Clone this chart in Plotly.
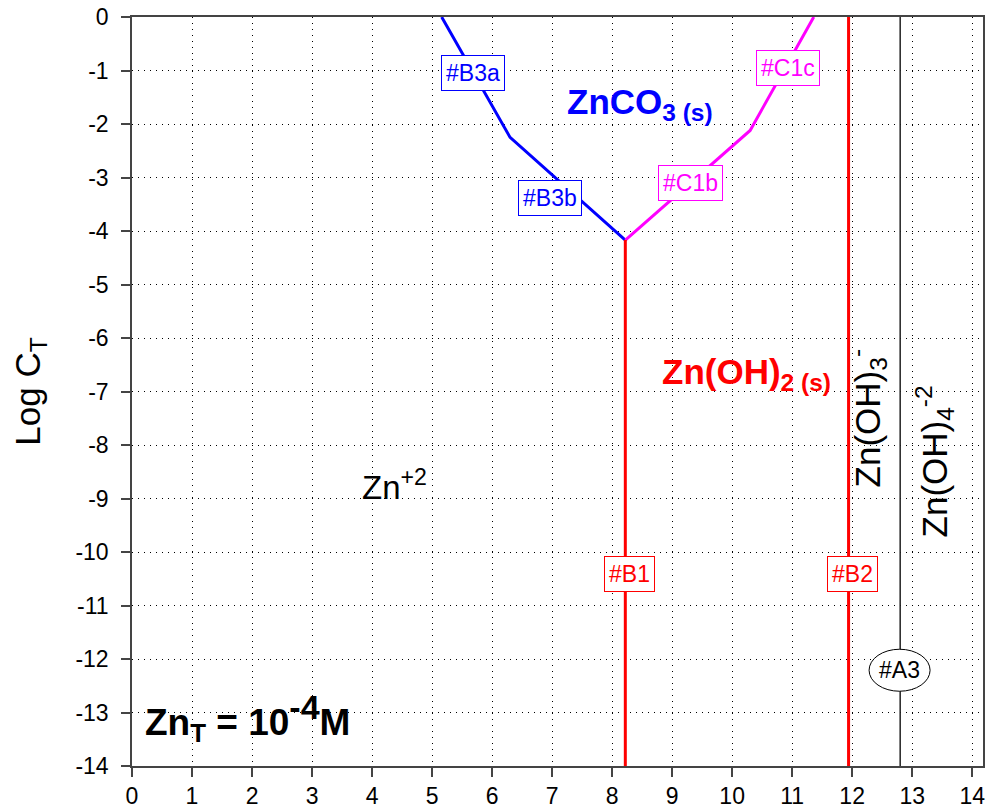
import plotly.graph_objects as go

# ---- data (pH vs log C_T boundaries) ----
znco3_zn2_x = [5.16, 6.3, 8.22]
znco3_zn2_y = [0.0, -2.25, -4.17]
znco3_znoh2_x = [8.22, 10.3, 11.36]
znco3_znoh2_y = [-4.17, -2.12, 0.0]
b1_x = [8.22, 8.22]
b1_y = [-4.17, -14.0]
b2_x = [11.94, 11.94]
b2_y = [0.0, -14.0]
a3_x = [12.8, 12.8]
a3_y = [0.0, -14.0]

x_ticks = list(range(0, 15))
x_ticklabels = [str(v) for v in x_ticks]
y_ticks = list(range(-14, 1))
y_ticklabels = [str(v) for v in y_ticks]  # plain hyphen minus

FONT = "Liberation Sans, Arial, Helvetica, sans-serif"
BLUE = "#0000ff"
MAG = "#ff00ff"
RED = "#ff0000"

fig = go.Figure()
fig.add_trace(go.Scatter(x=znco3_zn2_x, y=znco3_zn2_y, mode="lines",
                         line=dict(color=BLUE, width=3), showlegend=False))
fig.add_trace(go.Scatter(x=znco3_znoh2_x, y=znco3_znoh2_y, mode="lines",
                         line=dict(color=MAG, width=3), showlegend=False))
fig.add_trace(go.Scatter(x=b1_x, y=b1_y, mode="lines",
                         line=dict(color=RED, width=3), showlegend=False))
fig.add_trace(go.Scatter(x=b2_x, y=b2_y, mode="lines",
                         line=dict(color=RED, width=3), showlegend=False))
fig.add_trace(go.Scatter(x=a3_x, y=a3_y, mode="lines",
                         line=dict(color="#222222", width=1.5), showlegend=False))

# ellipse behind #A3
fig.add_shape(type="circle", xref="x", yref="y", xsizemode="pixel", ysizemode="pixel",
              xanchor=12.79, yanchor=-12.21, x0=-30.5, x1=30.5, y0=-21, y1=21,
              line=dict(color="black", width=1), fillcolor="white", layer="above")

def boxlab(text, x, y, color):
    fig.add_annotation(x=x, y=y, xref="x", yref="y", text=text, showarrow=False,
                       font=dict(family=FONT, size=23, color=color),
                       bgcolor="white", bordercolor=color, borderwidth=1, borderpad=4,
                       xanchor="center", yanchor="middle")

boxlab("#B3a", 5.68, -1.04, BLUE)
boxlab("#B3b", 6.97, -3.38, BLUE)
boxlab("#C1b", 9.3, -3.11, MAG)
boxlab("#C1c", 10.93, -0.96, MAG)
boxlab("#B1", 8.29, -10.42, RED)
boxlab("#B2", 12.01, -10.42, RED)

fig.add_annotation(x=12.79, y=-12.21, text="#A3", showarrow=False,
                   font=dict(family=FONT, size=23, color="black"))

def lab(text, x, y, color, size, bold=False, angle=0):
    t = f"<b>{text}</b>" if bold else text
    fig.add_annotation(x=x, y=y, xref="x", yref="y", text=t, showarrow=False,
                       font=dict(family=FONT, size=size, color=color),
                       textangle=angle, xanchor="center", yanchor="middle")

lab("ZnCO<sub>3 (s)</sub>", 8.47, -1.63, BLUE, 35, bold=True)
lab("Zn(OH)<sub>2 (s)</sub>", 10.24, -6.68, RED, 35, bold=True)
lab("Zn<sup>+2</sup>", 4.37, -8.75, "black", 33)
lab("Zn(OH)<sub>3</sub><sup>-</sup>", 12.25, -7.5, "black", 35, angle=-90)
lab("Zn(OH)<sub>4</sub><sup>-2</sup>", 13.37, -8.3, "black", 35, angle=-90)
lab("Zn<sub>T</sub> = 10<sup><span style='font-size:34px'>-4</span></sup>M",
    1.93, -13.1, "black", 37, bold=True)

axis_common = dict(
    showline=True, linecolor="#444444", linewidth=1.5, mirror=True,
    ticks="outside", ticklen=9, tickcolor="#444444", tickwidth=1.5,
    showgrid=True, gridcolor="black", gridwidth=1, griddash="1px,5px",
    zeroline=False, tickfont=dict(family=FONT, size=23, color="black"),
)

fig.update_xaxes(range=[0, 14.18], tickvals=x_ticks, ticktext=x_ticklabels, **axis_common)
fig.update_yaxes(range=[-14, 0], tickvals=y_ticks, ticktext=y_ticklabels,
                 ticklabelstandoff=8,
                 title=dict(text="Log C<sub>T</sub>", font=dict(family=FONT, size=35, color="black"),
                            standoff=24),
                 **axis_common)

fig.update_layout(
    width=986, height=810,
    margin=dict(l=132, r=3, t=17, b=44, autoexpand=False),
    plot_bgcolor="white", paper_bgcolor="white",
    font=dict(family=FONT),
)

fig.write_html("out.html")
